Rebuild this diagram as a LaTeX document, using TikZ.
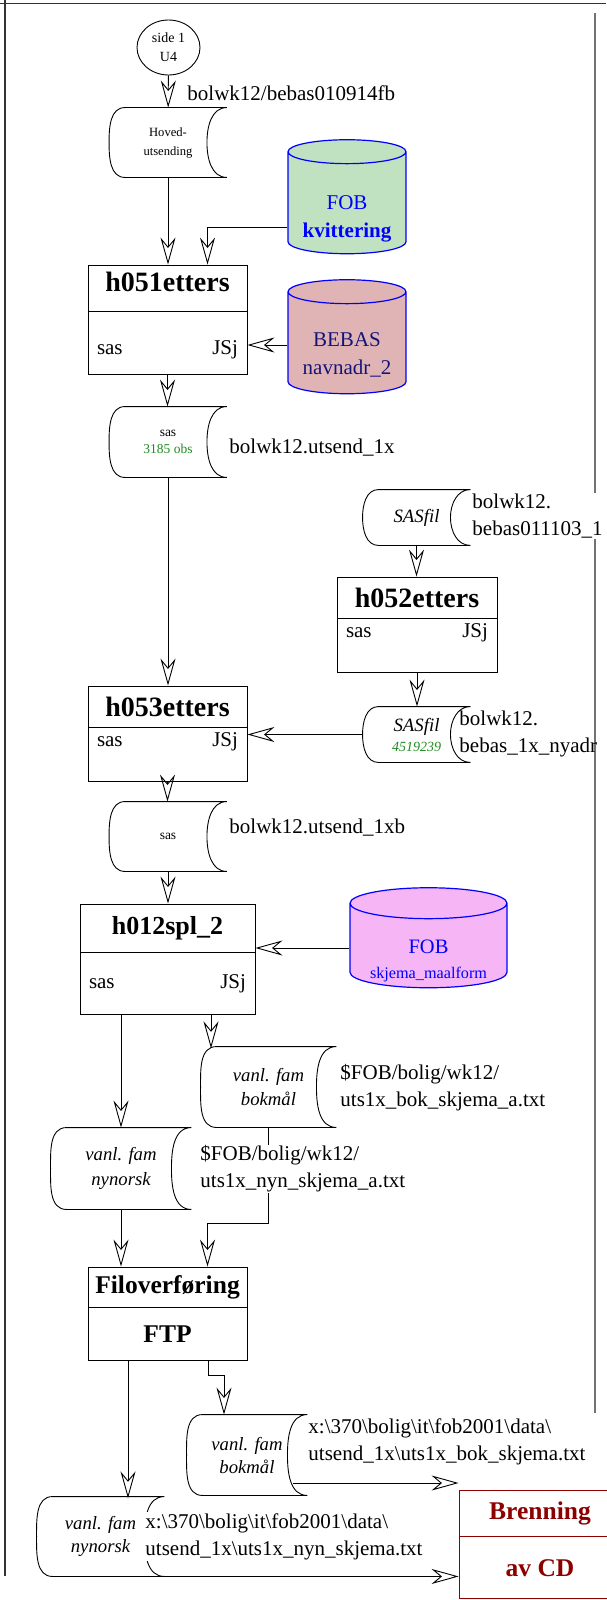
\documentclass[tikz,border=0pt]{standalone}
\usepackage{fontspec}
\setmainfont{Liberation Serif}
\usepackage{xcolor}
\usetikzlibrary{calc, arrows.meta, positioning, shapes.geometric}

\definecolor{fobgreen}{RGB}{192,226,192}
\definecolor{bebasred}{RGB}{224,180,180}
\definecolor{fobpink}{RGB}{246,182,246}
\definecolor{navyblue}{RGB}{20,20,120}
\definecolor{cdred}{RGB}{140,0,0}
\definecolor{obsgreen}{RGB}{30,140,30}

\newcommand{\fsz}[2]{\fontsize{#1}{#2}\selectfont}
% border of a stored-data symbol round a named node
\newcommand{\storedata}[1]{%
  \draw ($(#1.north west)+(16,0)$) -- (#1.north east)
    to[out=180,in=90] ($(#1.east)+(-20,0)$)
    to[out=-90,in=180] (#1.south east)
    -- ($(#1.south west)+(16,0)$)
    to[out=180,in=-90] (#1.west)
    to[out=90,in=180] ($(#1.north west)+(16,0)$);}

\begin{document}
\begin{tikzpicture}[x=1pt, y=1pt, line width=0.9pt, >={Stealth[open, length=27pt, width=15pt, inset=9pt]}]
		\tikzstyle{rim} = [line width=1.5pt, black!80]
		\tikzstyle{arrow} = [->, line width=0.9pt]
		\tikzstyle{round} = [draw, ellipse, minimum width=63pt, minimum height=55pt, inner sep=0pt, align=center, font=\fsz{14}{19}]
		\tikzstyle{store} = [inner sep=0pt, align=center]
		\tikzstyle{dbase} = [cylinder, shape border rotate=90, aspect=0.25, draw=blue, line width=1.2pt]
		\tikzstyle{dbtext} = [align=center, font=\fsz{21}{28}, text=blue]
		\tikzstyle{jobhead} = [draw, inner sep=0pt, font=\fsz{28}{32}\bfseries]
		\tikzstyle{jobbody} = [draw, inner xsep=9pt, inner ysep=0pt, font=\fsz{21}{25}]
		\tikzstyle{lbl} = [anchor=west, align=left, inner sep=1pt, font=\fsz{21}{27}]

		\draw[rim] (0,-3.5) -- (606,-3.5);
		\draw[rim] (5,0) -- (5,-1576);
		\draw[rim, black!55, line width=2pt] (595,-13) -- (595,-1413);

		% first run
		\node[round] at (168.5,-47.5) (circ) {side 1\\U4};
		\node[store, minimum width=117pt, minimum height=69pt, font=\fsz{12.6}{19}] at (168,-142.5) (hoved) {Hoved-\\utsending};
		\node[dbase, fill=fobgreen, minimum width=118pt, minimum height=114pt,
			label={[dbtext, yshift=-14pt]center:{FOB\\\textbf{kvittering}}}] at (347,-205) (fobk) {\phantom{\rule{89pt}{47pt}}};
		\node[jobhead, minimum width=159pt, minimum height=46pt, text depth=12pt] at (167.5,-288) (h051) {h051etters};
		\node[jobbody, below=0pt of h051, minimum height=63pt, text height=26pt] (h051s) {\makebox[141pt]{sas\hfill JSj}};
		\node[dbase, fill=bebasred, minimum width=118pt, minimum height=114pt,
			label={[dbtext, text=navyblue, yshift=-10pt]center:{BEBAS\\navnadr\_2}}] at (347,-345) (bebas) {\phantom{\rule{89pt}{47pt}}};
		\node[store, minimum width=117pt, minimum height=70pt, font=\fsz{13.5}{17}] at (168,-442) (sas1) {sas\\\textcolor{obsgreen}{3185 obs}};

		% new addresses
		\node[store, minimum width=107pt, minimum height=55pt, font=\fsz{18.8}{20}\itshape] at (416.5,-517.5) (sasfil1) {SASfil};
		\node[jobhead, minimum width=160pt, minimum height=41pt] at (417,-597.5) (h052) {h052etters};
		\node[jobbody, below=0pt of h052, minimum height=54pt, text depth=30pt] (h052s) {\makebox[142pt]{sas\hfill JSj}};
		\node[store, minimum width=107pt, minimum height=55pt, font=\fsz{18.8}{20}\itshape] at (416.5,-734.5) (sasfil2) {SASfil\\{\fsz{14}{20}\color{obsgreen}4519239}};
		\node[jobhead, minimum width=159pt, minimum height=41pt] at (167.5,-706.5) (h053) {h053etters};
		\node[jobbody, below=0pt of h053, minimum height=54pt, text depth=30pt] (h053s) {\makebox[141pt]{sas\hfill JSj}};
		\node[store, minimum width=117pt, minimum height=69pt, font=\fsz{13.5}{17}] at (168,-836.5) (sas2) {sas};

		% split on language
		\node[jobhead, minimum width=175pt, minimum height=48pt, font=\fsz{26}{30}\bfseries] at (167.5,-928) (h012) {h012spl\_2};
		\node[jobbody, below=0pt of h012, minimum height=62pt] (h012s) {\makebox[157pt]{sas\hfill JSj}};
		\node[dbase, fill=fobpink, minimum width=157pt, minimum height=100pt,
			label={[dbtext, font=\fsz{20.5}{25}, yshift=-13pt]center:{FOB\\{\fsz{16.2}{25}skjema\_maalform}}}] at (428.5,-948) (fobm) {\phantom{\rule{117pt}{42pt}}};
		\node[store, minimum width=135pt, minimum height=80pt, font=\fsz{18.7}{24}\itshape] at (268.5,-1087) (bok1) {vanl. fam\\bokmål};
		\node[store, minimum width=140pt, minimum height=81pt, font=\fsz{18.7}{25}\itshape] at (121,-1168.5) (nyn1) {vanl. fam\\nynorsk};

		% transfer and CD
		\node[jobhead, minimum width=159pt, minimum height=40pt, font=\fsz{25.5}{30}\bfseries] at (167.5,-1287) (filo) {Filoverføring};
		\node[jobbody, below=0pt of filo, minimum width=159pt, minimum height=53pt, font=\fsz{25.5}{30}\bfseries] (filos) {FTP};
		\node[store, minimum width=120pt, minimum height=80pt, font=\fsz{18.7}{23}\itshape] at (247,-1455) (bok2) {vanl. fam\\bokmål};
		\node[store, minimum width=127pt, minimum height=79pt, font=\fsz{18.7}{23}\itshape] at (100.5,-1536.5) (nyn2) {vanl. fam\\nynorsk};
		\node[jobhead, draw=cdred, text=cdred, fill=white, minimum width=162pt, minimum height=46pt, font=\fsz{25.5}{30}\bfseries] at (540,-1513) (bren) {Brenning};
		\node[jobbody, below=0pt of bren, draw=cdred, text=cdred, fill=white, minimum width=162pt, minimum height=62pt, font=\fsz{25.5}{30}\bfseries] (brens) {av CD};

		\storedata{hoved}
		\storedata{sas1}
		\storedata{sasfil1}
		\storedata{sasfil2}
		\storedata{sas2}
		\storedata{bok1}
		\storedata{nyn1}
		\storedata{bok2}
		\storedata{nyn2}

		\draw[arrow] (circ) -- (hoved);
		\draw[arrow] (hoved.south) -- (hoved.south |- h051.north);
		\draw[arrow] ([yshift=-22pt]fobk.180) -| ([xshift=40pt]h051.north);
		\draw[arrow] (bebas.180) -- (bebas.180 -| h051s.east);
		\draw[arrow] (h051s.south) -- (h051s.south |- sas1.north);
		\draw[arrow] (sas1.south) -- (sas1.south |- h053.north);
		\draw[arrow] (sasfil1.south) -- (sasfil1.south |- h052.north);
		\draw[arrow] (h052s.south) -- (h052s.south |- sasfil2.north);
		\draw[arrow] (sasfil2.west) -- (sasfil2.west -| h053s.east);
		\draw[arrow] (h053s.south) -- (h053s.south |- sas2.north);
		\draw[arrow] (sas2.south) -- (sas2.south |- h012.north);
		\draw[arrow] (fobm.180) -- (fobm.180 -| h012.east);
		\draw[arrow] (nyn1.north |- h012s.south) -- (nyn1.north);
		\draw[arrow] ([xshift=43.5pt]h012s.south) -- ++(0,-33);
		\draw[arrow] (nyn1.south) -- (nyn1.south |- filo.north);
		\draw[arrow] (bok1.south) -- ++(0,-96) -| ([xshift=40pt]filo.north);
		\draw[arrow] ([xshift=-39.5pt]filos.south) -- ++(0,-137);
		\draw[arrow] ([xshift=40.5pt]filos.south) -- ++(0,-14) -| ([xshift=-23pt]bok2.north);
		\coordinate (bokout) at ([xshift=-14pt, yshift=-28pt]bok2.east);
		\draw[arrow] (bokout) -- (bokout -| bren.west);
		\draw[arrow] (nyn2.south east) -- (nyn2.south east -| brens.west);

		% file names
		\node[lbl] at (186,-93) (hovedlbl) {bolwk12/bebas010914fb};
		\node[lbl] at (228,-448) (sas1lbl) {bolwk12.utsend\_1x};
		\node[lbl, fill=white] at (471,-516) (sasfil1lbl) {bolwk12.\\bebas011103\_1};
		\node[lbl] at (458,-734) (sasfil2lbl) {bolwk12.\\bebas\_1x\_nyadr};
		\node[lbl] at (228,-828) (sas2lbl) {bolwk12.utsend\_1xb};
		\node[lbl] at (339,-1087.5) (bok1lbl) {\$FOB/bolig/wk12/\\uts1x\_bok\_skjema\_a.txt};
		\node[lbl, fill=white] at (199,-1169) (nyn1lbl) {\$FOB/bolig/wk12/\\uts1x\_nyn\_skjema\_a.txt};
		\node[lbl, fill=white] at (307,-1441.5) (bok2lbl) {x:\textbackslash 370\textbackslash bolig\textbackslash it\textbackslash fob2001\textbackslash data\textbackslash\\utsend\_1x\textbackslash uts1x\_bok\_skjema.txt};
		\node[lbl, fill=white] at (144,-1536.5) (nyn2lbl) {x:\textbackslash 370\textbackslash bolig\textbackslash it\textbackslash fob2001\textbackslash data\textbackslash\\utsend\_1x\textbackslash uts1x\_nyn\_skjema.txt};

		\pgfresetboundingbox
		\path[use as bounding box] (0,0) rectangle (606,-1600);
	\end{tikzpicture}
\end{document}
